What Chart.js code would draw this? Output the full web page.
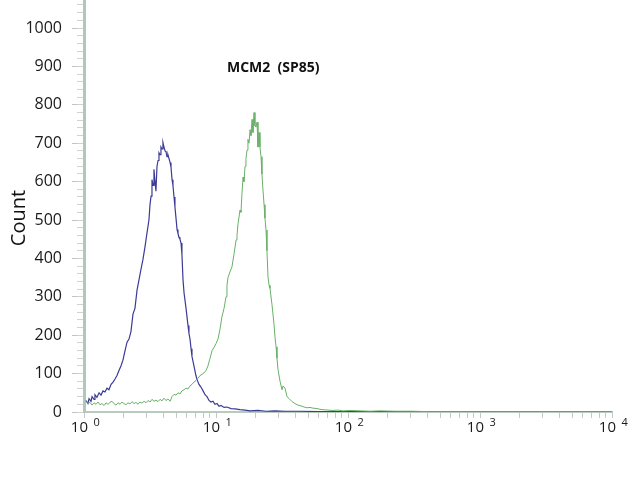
<!DOCTYPE html>
<html>
<head>
<meta charset="utf-8">
<script src="https://cdn.jsdelivr.net/npm/chart.js@4"></script>
<style>
html,body{margin:0;padding:0;background:#fff;}
canvas{display:block;}
</style>
</head>
<body>
<canvas id="c" width="640" height="480"></canvas>
<script>
// Fluorescence intensity read in decades (log10), counts
const blueDecade = [0.015,0.030,0.038,0.053,0.061,0.076,0.083,0.098,0.114,0.129,0.144,0.159,0.174,0.189,0.205,0.220,0.235,0.250,0.265,0.280,0.295,0.311,0.326,0.341,0.356,0.371,0.386,0.402,0.417,0.432,0.447,0.462,0.477,0.492,0.500,0.508,0.515,0.523,0.530,0.538,0.545,0.553,0.561,0.568,0.576,0.583,0.591,0.598,0.606,0.614,0.621,0.629,0.636,0.644,0.652,0.659,0.667,0.674,0.682,0.689,0.697,0.705,0.712,0.720,0.727,0.735,0.742,0.750,0.758,0.773,0.788,0.795,0.803,0.811,0.818,0.833,0.848,0.856,0.871,0.886,0.902,0.917,0.932,0.947,0.962,0.977,0.992,1.008,1.023,1.038,1.061,1.083,1.114,1.144,1.182,1.220,1.258,1.318,1.379,1.447,1.523,1.636,1.788,2.015,2.394,2.773,3.152,4.000];
const blueCount  = [30,22,35,28,40,33,45,38,50,44,55,52,62,58,72,78,86,95,108,120,135,160,182,190,210,255,270,318,345,372,398,430,466,500,540,562,605,590,632,600,575,640,655,675,670,690,685,702,690,680,678,665,670,660,650,638,605,590,560,534,505,475,465,455,450,440,410,345,310,270,225,205,190,165,145,120,95,85,72,65,55,45,40,30,26,28,20,22,15,17,12,13,9,8,6,5,3,4,2,3,2,2,1,1,1,1,0,0];

const greenDecade = [0.015,0.030,0.045,0.061,0.076,0.091,0.106,0.121,0.136,0.152,0.167,0.182,0.197,0.212,0.227,0.242,0.258,0.273,0.288,0.303,0.318,0.333,0.348,0.364,0.379,0.394,0.409,0.424,0.439,0.455,0.470,0.485,0.500,0.515,0.530,0.545,0.561,0.576,0.591,0.606,0.621,0.636,0.652,0.667,0.682,0.697,0.712,0.727,0.742,0.758,0.773,0.788,0.803,0.818,0.833,0.848,0.864,0.879,0.894,0.909,0.924,0.939,0.955,0.970,0.985,1.000,1.015,1.030,1.045,1.061,1.076,1.083,1.091,1.106,1.121,1.136,1.152,1.159,1.167,1.182,1.189,1.197,1.205,1.212,1.220,1.227,1.235,1.242,1.250,1.258,1.265,1.273,1.280,1.288,1.295,1.303,1.311,1.318,1.326,1.333,1.341,1.348,1.356,1.364,1.371,1.379,1.386,1.394,1.402,1.409,1.424,1.439,1.447,1.455,1.462,1.470,1.485,1.500,1.508,1.523,1.538,1.553,1.576,1.598,1.621,1.644,1.667,1.689,1.712,1.735,1.765,1.788,1.811,1.848,1.886,1.924,1.962,2.015,2.091,2.167,2.242,2.356,2.470,2.621,2.848,3.152,4.000];
const greenCount  = [28,22,25,18,24,20,26,19,22,17,24,20,25,28,22,18,24,20,26,22,19,24,21,27,22,25,20,26,23,28,24,30,26,33,28,31,27,33,29,36,30,34,28,40,46,44,50,47,55,58,62,60,68,72,78,82,88,95,98,102,108,120,140,160,168,178,190,215,248,270,300,330,350,365,378,410,448,460,490,526,520,570,612,600,640,660,682,710,700,735,720,762,728,780,745,742,755,690,728,690,665,620,578,540,505,474,420,352,330,322,280,230,195,170,140,110,80,58,68,62,40,35,27,22,18,16,13,11,12,10,9,7,6,5,4,5,3,4,3,2,3,2,2,1,1,0,0];

const yMajorTicks = [0,100,200,300,400,500,600,700,800,900,1000];
const yMinorTicks = [0,20,40,60,80,100,120,140,160,180,200,220,240,260,280,300,320,340,360,380,400,420,440,460,480,500,520,540,560,580,600,620,640,660,680,700,720,740,760,780,800,820,840,860,880,900,920,940,960,980,1000,1020,1040,1060];
const xTickValues = [1,2,3,4,5,6,7,8,9,10,20,30,40,50,60,70,80,90,100,200,300,400,500,600,700,800,900,1000,2000,3000,4000,5000,6000,7000,8000,9000,10000];
const xDecadeLabels = [1,10,100,1000,10000];
const xExponents = ['0','1','2','3','4'];
const chartTitle = 'MCM2  (SP85)';
const yTitle = 'Count';

function toPoints(dec, cnt){ return dec.map((d,i)=>({x: Math.pow(10,d), y: cnt[i]})); }

const labelsPlugin = {
  id: 'labelsPlugin',
  afterDraw(chart){
    const ctx = chart.ctx;
    const xs = chart.scales.x;
    ctx.save();
    ctx.fillStyle = '#1a1a1a';
    xDecadeLabels.forEach((v,i)=>{
      const px = xs.getPixelForValue(v);
      ctx.font = '15px "Open Sans"';
      ctx.textAlign = 'right';
      ctx.textBaseline = 'alphabetic';
      ctx.fillText('10', px + 4, 432);
      ctx.font = '11px "Open Sans"';
      ctx.textAlign = 'left';
      ctx.fillText(xExponents[i], px + 9.5, 426);
    });
    // chart title inside plot
    ctx.font = 'bold 14px "Open Sans"';
    ctx.textAlign = 'left';
    ctx.fillStyle = '#111';
    ctx.fillText(chartTitle, 227, 72);
    // y axis title
    ctx.translate(25, 218);
    ctx.rotate(-Math.PI/2);
    ctx.font = '20px "Open Sans"';
    ctx.textAlign = 'center';
    ctx.textBaseline = 'alphabetic';
    ctx.fillStyle = '#111';
    ctx.fillText(yTitle, 0, 0);
    ctx.restore();
  }
};

function noPad(s){ s.paddingTop = 0; s.paddingBottom = 0; s.paddingLeft = 0; s.paddingRight = 0; }

new Chart(document.getElementById('c'), {
  type: 'line',
  data: {
    datasets: [
      { label: 'MCM2 (SP85)', data: toPoints(greenDecade, greenCount), borderColor: '#68b068', borderWidth: 1, pointRadius: 0, tension: 0, fill: false },
      { label: 'Isotype control', data: toPoints(blueDecade, blueCount), borderColor: '#3b3b95', borderWidth: 1.2, pointRadius: 0, tension: 0, fill: false }
    ]
  },
  options: {
    responsive: false,
    animation: false,
    layout: { padding: { top: 0, right: 28, bottom: 0, left: 0 } },
    plugins: { legend: { display: false }, tooltip: { enabled: false }, title: { display: false } },
    scales: {
      x: {
        type: 'logarithmic', min: 1, max: 10000,
        afterBuildTicks: s => { s.ticks = xTickValues.map(v => ({ value: v })); },
        afterFit: s => { s.height = 68; noPad(s); },
        ticks: { display: false, autoSkip: false },
        grid: { drawOnChartArea: false, tickLength: 6, color: '#c8c8c8', lineWidth: 1 },
        border: { color: '#b9cabf', width: 2 }
      },
      y: {
        weight: 10,
        min: 0, max: 1073,
        afterBuildTicks: s => { s.ticks = yMajorTicks.map(v => ({ value: v })); },
        afterFit: s => { s.width = 84; noPad(s); },
        ticks: { font: { family: '"Open Sans"', size: 16 }, color: '#1a1a1a', padding: 10, autoSkip: false, callback: v => String(v) },
        grid: { drawOnChartArea: false, tickLength: 12, color: '#c4c4c4', lineWidth: 1 },
        border: { color: '#b0c8b8', width: 3 }
      },
      yMinor: {
        position: 'left', weight: 0,
        min: 0, max: 1073,
        afterBuildTicks: s => { s.ticks = yMinorTicks.map(v => ({ value: v })); },
        afterFit: s => { s.width = 0; noPad(s); },
        ticks: { display: false, autoSkip: false },
        grid: { drawOnChartArea: false, tickLength: 7, color: '#d2d2d2', lineWidth: 1 },
        border: { display: false }
      }
    }
  },
  plugins: [labelsPlugin]
});
</script>
</body>
</html>
